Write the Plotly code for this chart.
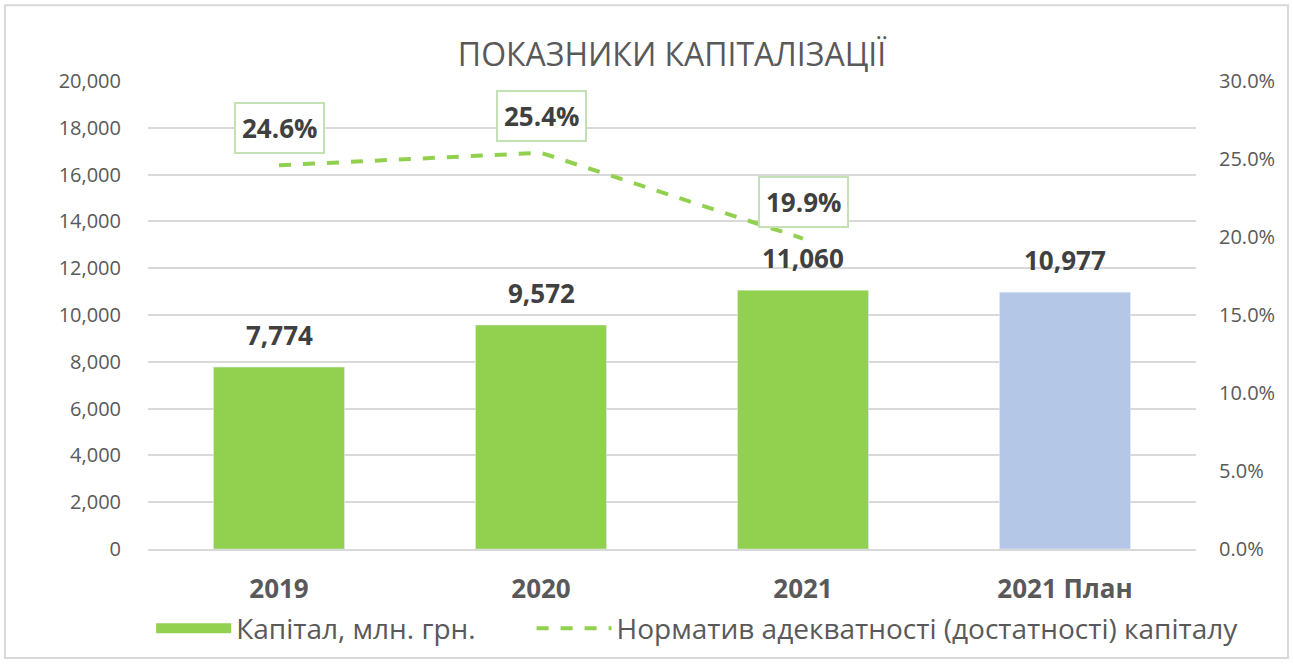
import plotly.graph_objects as go

# chart data
categories = ['2019', '2020', '2021', '2021 План']
capital = [7774, 9572, 11060, 10977]
adequacy = [24.6, 25.4, 19.9, None]
bar_colors = ['#92D050', '#92D050', '#92D050', '#B4C7E7']
left_ticks = list(range(0, 20001, 2000))
right_ticks = [0, 5, 10, 15, 20, 25, 30]

FONT = 'Open Sans, Noto Sans, sans-serif'
DARK = '#404040'
GREY = '#595959'
GREEN = '#92D050'

fig = go.Figure()

fig.add_trace(go.Bar(
    x=categories,
    y=capital,
    name='Капітал, млн. грн.',
    marker_color=bar_colors,
    showlegend=False,
    yaxis='y',
))

# legend entry drawn as a wide green block, like the Excel legend key
fig.add_trace(go.Scatter(
    x=[None], y=[None],
    name='Капітал, млн. грн.',
    mode='lines',
    line=dict(color=GREEN, width=18),
    hoverinfo='skip',
    legend='legend',
))

fig.add_trace(go.Scatter(
    x=categories,
    y=adequacy,
    name='Норматив адекватності (достатності) капіталу',
    mode='lines',
    line=dict(color=GREEN, width=4, dash='dash'),
    yaxis='y2',
    legend='legend2',
))

# value labels above bars
for i, v in enumerate(capital):
    fig.add_annotation(
        x=i, y=v, xref='x', yref='y',
        text=f'<b>{v:,}</b>',
        showarrow=False,
        yanchor='bottom',
        yshift=12,
        font=dict(size=26, color=DARK, family=FONT),
    )

# boxed labels for the ratio line (x as category index: numeric-looking
# category names are otherwise read as numbers by annotations)
for i, val in enumerate(adequacy):
    if val is None:
        continue
    fig.add_annotation(
        x=i, y=val, xref='x', yref='y2',
        text=f'<b>{val:.1f}%</b>',
        showarrow=False,
        yshift=37,
        font=dict(size=26, color=DARK, family=FONT),
        bordercolor='#C5E0B4',
        borderwidth=2,
        borderpad=6,
        bgcolor='white',
    )

# outer chart border
fig.add_shape(
    type='rect', xref='paper', yref='paper',
    x0=-0.1365, x1=1.0878, y0=-0.233, y1=1.162,
    line=dict(color='#D9D9D9', width=2),
    layer='below',
)

legend_style = dict(
    orientation='h',
    y=-0.17, yanchor='middle',
    font=dict(size=28, color=GREY, family=FONT),
    itemwidth=75,
    bgcolor='rgba(0,0,0,0)',
)

fig.update_layout(
    title=dict(
        text='ПОКАЗНИКИ КАПІТАЛІЗАЦІЇ',
        x=0.5, xref='paper', xanchor='center',
        y=0.917, yanchor='middle',
        font=dict(size=32, color=GREY, family=FONT),
    ),
    width=1293,
    height=664,
    margin=dict(l=148, r=97, t=81, b=115, autoexpand=False),
    plot_bgcolor='white',
    paper_bgcolor='white',
    font=dict(family=FONT, color=GREY, size=20),
    bargap=0.5,
    showlegend=True,
    legend=dict(x=0.003, xanchor='left', **legend_style),
    legend2=dict(x=0.366, xanchor='left', **legend_style),
    xaxis=dict(
        type='category',
        range=[-0.5, 3.5],
        automargin=False,
        showgrid=False,
        showline=True,
        linecolor='#D9D9D9',
        linewidth=2,
        ticks='outside',
        ticklen=16,
        tickcolor='rgba(0,0,0,0)',
        tickvals=categories,
        ticktext=[f'<b>{c}</b>' for c in categories],
        tickfont=dict(size=26, color=GREY, family=FONT),
    ),
    yaxis=dict(
        automargin=False,
        range=[0, 20000],
        tickvals=left_ticks,
        tickformat=',',
        showgrid=True,
        gridcolor='#D9D9D9',
        gridwidth=1.5,
        zeroline=False,
        showline=False,
        ticks='outside',
        ticklen=22,
        tickcolor='rgba(0,0,0,0)',
        tickfont=dict(size=20, color=GREY, family=FONT),
    ),
    yaxis2=dict(
        automargin=False,
        range=[0, 30],
        tickvals=right_ticks,
        ticktext=[f'{t:.1f}%' for t in right_ticks],
        overlaying='y',
        side='right',
        showgrid=False,
        zeroline=False,
        showline=False,
        ticks='outside',
        ticklen=18,
        tickcolor='rgba(0,0,0,0)',
        tickfont=dict(size=20, color=GREY, family=FONT),
    ),
)

fig.write_html('out.html', config={'displayModeBar': False},
               post_script="document.body.style.margin='0';")
